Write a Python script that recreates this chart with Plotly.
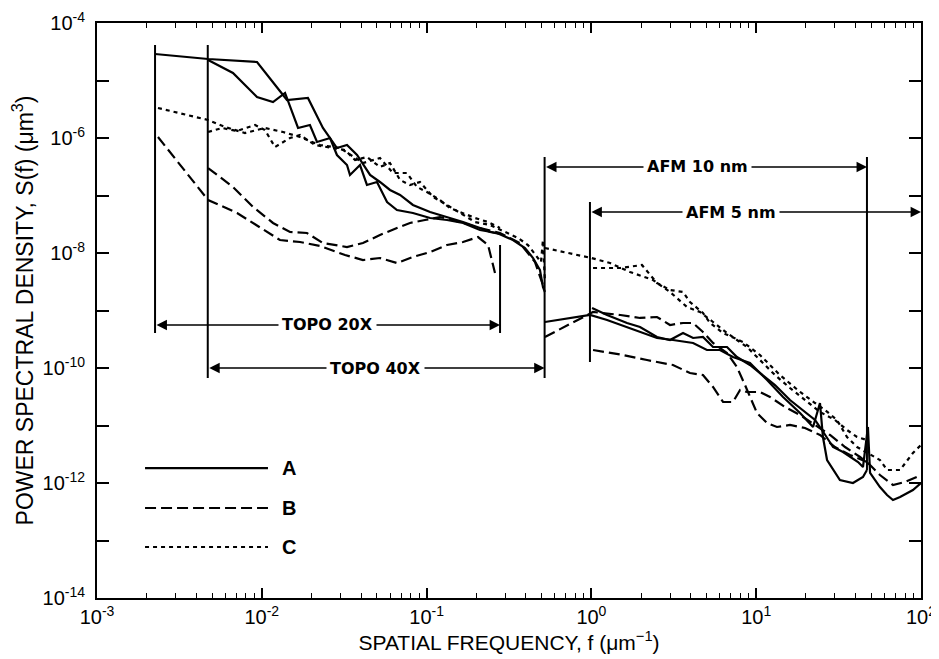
import numpy as np
import plotly.graph_objects as go

# ---------------- data (log10 values) ----------------
# Sample A (solid)
A_topo20_logf = [-2.648, -2.326, -2.029, -1.847, -1.720, -1.629, -1.544, -1.483, -1.422, -1.343, -1.283, -1.222,
                 -1.161, -1.083, -0.979, -0.876, -0.779, -0.676, -0.615, -0.555]
A_topo20_logS = [-4.539, -4.626, -4.678, -5.339, -5.304, -5.826, -6.174, -6.122, -6.296, -6.643, -6.765, -6.904,
                 -6.991, -7.165, -7.287, -7.374, -7.461, -7.565, -7.635, -7.670]
A_topo40_logf = [-2.326, -2.175, -2.029, -1.932, -1.859, -1.780, -1.708, -1.665, -1.586, -1.544, -1.483, -1.465,
                 -1.404, -1.362, -1.301, -1.240, -1.180, -1.083, -0.979, -0.876, -0.779, -0.676, -0.573, -0.476,
                 -0.403, -0.354, -0.312, -0.294, -0.282]
A_topo40_logS = [-4.643, -4.870, -5.287, -5.374, -5.217, -5.826, -5.774, -6.070, -6.000, -6.296, -6.470, -6.643,
                 -6.470, -6.817, -6.765, -7.113, -7.252, -7.304, -7.391, -7.426, -7.478, -7.600, -7.652, -7.774,
                 -7.913, -8.087, -8.296, -8.591, -8.678]
A_afm10_logf = [-0.282, -0.008, 0.095, 0.216, 0.295, 0.398, 0.495, 0.617, 0.701, 0.780, 0.859, 0.962, 1.066,
                1.163, 1.266, 1.345, 1.387, 1.405, 1.430, 1.508, 1.587, 1.648, 1.672]
A_afm10_logS = [-9.200, -9.078, -9.165, -9.287, -9.374, -9.478, -9.513, -9.565, -9.687, -9.687, -9.809, -9.913,
                -10.209, -10.504, -10.783, -11.026, -10.609, -11.200, -11.600, -11.948, -12.000, -11.896, -11.774]
A_afm5_logf = [0.004, 0.095, 0.216, 0.295, 0.398, 0.477, 0.556, 0.617, 0.677, 0.738, 0.823, 0.883, 0.962, 1.041,
               1.114, 1.205, 1.296, 1.357, 1.399, 1.466, 1.527, 1.569, 1.618, 1.648, 1.678, 1.691, 1.751, 1.794,
               1.830, 1.873, 1.915, 1.951, 2.000]
A_afm5_logS = [-8.957, -9.078, -9.217, -9.287, -9.461, -9.513, -9.391, -9.478, -9.461, -9.635, -9.635, -9.809,
               -9.948, -10.122, -10.296, -10.557, -10.765, -10.904, -11.078, -11.374, -11.461, -11.548, -11.635,
               -11.722, -11.026, -11.826, -12.070, -12.209, -12.296, -12.243, -12.174, -12.122, -12.000]

# Sample B (dashed)
B_topo20_logf = [-2.630, -2.496, -2.326, -2.150, -2.011, -1.890, -1.768, -1.647, -1.495, -1.386, -1.283, -1.180,
                 -1.083, -0.979, -0.876, -0.779, -0.688, -0.627, -0.585]
B_topo20_logS = [-5.983, -6.470, -7.078, -7.304, -7.548, -7.774, -7.809, -7.878, -8.035, -8.122, -8.087, -8.174,
                 -8.070, -7.983, -7.861, -7.809, -7.722, -7.861, -8.348]
B_topo40_logf = [-2.326, -2.175, -2.053, -1.932, -1.829, -1.726, -1.629, -1.483, -1.386, -1.283, -1.180, -1.101,
                 -1.010, -0.919, -0.797, -0.676, -0.555, -0.434, -0.342, -0.294]
B_topo40_logS = [-6.522, -6.852, -7.200, -7.478, -7.635, -7.652, -7.826, -7.896, -7.826, -7.687, -7.565, -7.478,
                 -7.426, -7.374, -7.461, -7.565, -7.652, -7.826, -8.157, -8.557]
B_afm10_logf = [-0.282, 0.010, 0.176, 0.295, 0.398, 0.477, 0.556, 0.617, 0.677, 0.738, 0.823, 0.883, 0.932,
                1.005, 1.066, 1.126, 1.205, 1.296, 1.387, 1.478, 1.569, 1.672]
B_afm10_logS = [-9.461, -9.026, -9.078, -9.130, -9.113, -9.252, -9.217, -9.217, -9.374, -9.565, -9.739, -9.983,
                -10.296, -10.783, -10.957, -11.026, -10.991, -11.043, -11.165, -11.374, -11.513, -11.635]
B_afm5_logf = [0.010, 0.192, 0.337, 0.495, 0.598, 0.677, 0.738, 0.799, 0.859, 0.902, 0.944, 1.023, 1.084, 1.175,
               1.266, 1.357, 1.448, 1.539, 1.630, 1.691, 1.751, 1.830, 1.903, 2.000]
B_afm5_logS = [-9.687, -9.774, -9.861, -9.948, -10.087, -10.122, -10.330, -10.591, -10.591, -10.383, -10.417,
               -10.417, -10.504, -10.678, -10.817, -10.991, -11.165, -11.374, -11.548, -11.687, -11.861, -12.035,
               -11.983, -11.861]

# Sample C (dotted)
C_topo20_logf = [-2.630, -2.326, -2.223, -2.102, -1.981, -1.871, -1.768, -1.647, -1.525, -1.386, -1.283, -1.204,
                 -1.119, -1.058, -0.998, -0.919, -0.858, -0.779, -0.706, -0.627, -0.555]
C_topo20_logS = [-5.478, -5.687, -5.809, -5.913, -5.826, -5.896, -5.983, -6.122, -6.174, -6.435, -6.348, -6.609,
                 -6.609, -6.852, -6.939, -7.078, -7.217, -7.304, -7.391, -7.461, -7.565]
C_topo40_logf = [-2.326, -2.241, -2.150, -2.041, -1.981, -1.920, -1.829, -1.768, -1.677, -1.568, -1.495, -1.434,
                 -1.362, -1.283, -1.222, -1.161, -1.101, -1.040, -0.961, -0.876, -0.797, -0.706, -0.615, -0.524,
                 -0.445, -0.385, -0.336, -0.306, -0.294, -0.282]
C_topo40_logS = [-5.896, -5.826, -5.878, -5.774, -5.861, -6.157, -6.000, -5.948, -6.122, -6.174, -6.209, -6.383,
                 -6.330, -6.504, -6.435, -6.730, -6.817, -6.765, -7.026, -7.165, -7.304, -7.461, -7.513, -7.635,
                 -7.739, -7.861, -8.035, -8.157, -7.774, -8.504]
C_afm10_logf = [-0.282, 0.000, 0.113, 0.234, 0.374, 0.477, 0.580, 0.659, 0.738, 0.823, 0.944, 1.023, 1.114,
                1.205, 1.296, 1.387, 1.478, 1.551, 1.612, 1.672]
C_afm10_logS = [-7.913, -8.087, -8.174, -8.330, -8.470, -8.678, -8.939, -9.026, -9.200, -9.391, -9.635, -9.861,
                -10.122, -10.348, -10.557, -10.765, -10.904, -11.078, -11.200, -11.252]
C_afm5_logf = [0.010, 0.176, 0.307, 0.398, 0.477, 0.556, 0.598, 0.677, 0.720, 0.799, 0.920, 1.023, 1.144, 1.266,
               1.357, 1.417, 1.490, 1.551, 1.612, 1.672, 1.751, 1.794, 1.873, 1.951, 2.000]
C_afm5_logS = [-8.261, -8.261, -8.209, -8.522, -8.643, -8.678, -8.852, -9.043, -9.217, -9.391, -9.548, -9.774,
               -10.122, -10.417, -10.609, -10.730, -10.904, -11.200, -11.374, -11.478, -11.600, -11.774, -11.774,
               -11.478, -11.339]

# Measurement ranges (spatial frequency bands, um^-1)
band_names = ["TOPO 20X", "TOPO 40X", "AFM 10 nm", "AFM 5 nm"]
band_f_lo = [0.00225, 0.0047, 0.52, 0.98]
band_f_hi = [0.279, 0.52, 47.0, 100.0]

# Sample labels
samples = ["A", "B", "C"]

# x / y tick labels
x_tick_exps = [-3, -2, -1, 0, 1, 2]
y_tick_exps = list(range(-14, -3))

# ---------------- figure ----------------
dash_styles = {"A": "solid", "B": "11px,5px", "C": "4px,4px"}
series = {
    "A": [(A_topo20_logf, A_topo20_logS), (A_topo40_logf, A_topo40_logS),
          (A_afm10_logf, A_afm10_logS), (A_afm5_logf, A_afm5_logS)],
    "B": [(B_topo20_logf, B_topo20_logS), (B_topo40_logf, B_topo40_logS),
          (B_afm10_logf, B_afm10_logS), (B_afm5_logf, B_afm5_logS)],
    "C": [(C_topo20_logf, C_topo20_logS), (C_topo40_logf, C_topo40_logS),
          (C_afm10_logf, C_afm10_logS), (C_afm5_logf, C_afm5_logS)],
}

fig = go.Figure()
for name in samples:
    for lf, ls in series[name]:
        fig.add_trace(go.Scatter(
            x=10 ** np.array(lf), y=10 ** np.array(ls), mode="lines",
            line=dict(color="black", width=2.2, dash=dash_styles[name]),
            showlegend=False, hoverinfo="skip"))

# vertical range markers (positions of band limits)
vline_f = [band_f_lo[0], band_f_lo[1], band_f_hi[0], band_f_hi[1], band_f_lo[3], band_f_hi[2]]
vline_top = [-4.383, -4.383, -7.861, -6.330, -7.113, -6.330]
vline_bot = [-9.391, -10.174, -9.391, -10.174, -9.896, -11.774]
vx, vy = [], []
for f, t, b in zip(vline_f, vline_top, vline_bot):
    vx += [f, f, None]
    vy += [10 ** t, 10 ** b, None]
fig.add_trace(go.Scatter(x=vx, y=vy, mode="lines", line=dict(color="black", width=2),
                         showlegend=False, hoverinfo="skip"))

arrow_logS = [-9.252, -10.0, -6.504, -7.287]
label_logf = [-1.604, -1.313, 0.641, 0.847]
annotations = []
for nm, lo, hi, ys in zip(band_names, band_f_lo, band_f_hi, arrow_logS):
    annotations.append(dict(
        x=np.log10(hi), y=ys, ax=np.log10(lo), ay=ys, xref="x", yref="y", axref="x", ayref="y",
        text="", showarrow=True, arrowhead=2, startarrowhead=2, arrowside="end+start",
        arrowsize=1.3, arrowwidth=1.6, arrowcolor="black", standoff=0, startstandoff=0))
for nm, lx, ys in zip(band_names, label_logf, arrow_logS):
    annotations.append(dict(
        x=lx, y=ys, xref="x", yref="y", text=nm, showarrow=False, bgcolor="white", borderpad=3,
        font=dict(family="DejaVu Sans", size=16, color="black", weight="bold")))

# legend (drawn as key lines in paper coordinates)
shapes = []
leg_y = [0.226, 0.1565, 0.0887]
for name, yy in zip(samples, leg_y):
    shapes.append(dict(type="line", xref="paper", yref="paper", x0=0.0583, x1=0.2075, y0=yy, y1=yy,
                       line=dict(color="black", width=2.2, dash=dash_styles[name])))
    annotations.append(dict(x=0.222, y=yy, xref="paper", yref="paper", text=name, showarrow=False,
                            xanchor="left", yanchor="middle",
                            font=dict(family="Liberation Sans", size=20, color="black", weight="bold")))

# the page body adds an 8 px offset, so the figure is 8 px smaller and margins compensate
fig.update_layout(
    width=931, height=651,
    margin=dict(l=89, r=18, t=15, b=61, autoexpand=False),
    plot_bgcolor="white", paper_bgcolor="white",
    font=dict(family="Liberation Sans", color="black", size=20),
    annotations=annotations, shapes=shapes, showlegend=False,
)
fig.update_xaxes(
    type="log", range=[-3, 2], showgrid=False, zeroline=False, automargin=False,
    showline=True, linecolor="black", linewidth=2, mirror="ticks",
    ticks="inside", ticklen=10, tickwidth=1.5, tickcolor="black",
    tickmode="array", tickvals=[10.0 ** e for e in x_tick_exps],
    ticktext=[f"10<sup>{e}</sup>" for e in x_tick_exps],
    tickfont=dict(size=20),
    minor=dict(ticks="inside", ticklen=5, tickwidth=1.2, tickcolor="black", showgrid=False,
               tickmode="array", tickvals=[k * 10.0 ** e for e in range(-3, 2) for k in range(2, 10)]),
    title=dict(text="SPATIAL FREQUENCY, f (μm<sup>−1</sup>)", font=dict(size=21), standoff=3),
)
fig.update_yaxes(
    type="log", range=[-14, -4], showgrid=False, zeroline=False, automargin=False,
    showline=True, linecolor="black", linewidth=2, mirror="ticks",
    ticks="inside", ticklen=12, tickwidth=1.5, tickcolor="black",
    tickmode="array", tickvals=[10.0 ** e for e in y_tick_exps],
    ticktext=[f"10<sup>{e}</sup>" if e % 2 == 0 else "" for e in y_tick_exps],
    tickfont=dict(size=20), ticklabelstandoff=6,
    title=dict(text="POWER SPECTRAL DENSITY, S(f) (μm<sup>3</sup>)", font=dict(size=23), standoff=10),
)

fig.write_html("out.html")
